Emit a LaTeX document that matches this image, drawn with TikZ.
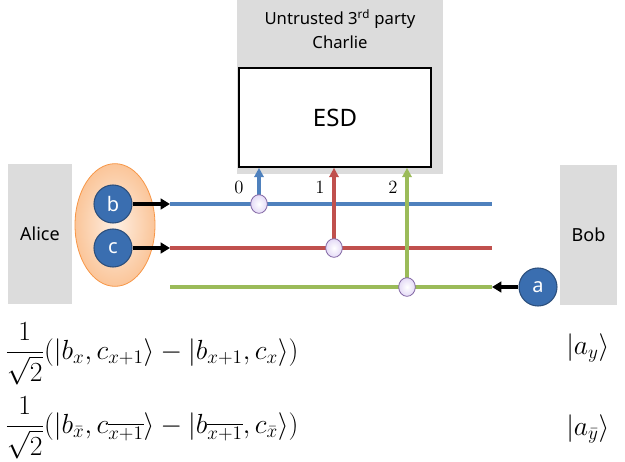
\documentclass[tikz,border=0pt]{standalone}
\usepackage{amsmath, amssymb}
\usepackage{fontspec}
\newfontfamily\labelfont{Noto Sans}
\usetikzlibrary{arrows.meta, shapes.geometric}

\definecolor{partygrey}{HTML}{DCDCDC}
\definecolor{lineblue}{HTML}{4F81BD}
\definecolor{linered}{HTML}{C0504D}
\definecolor{linegreen}{HTML}{9BBB59}
\definecolor{qubitblue}{HTML}{3A6EB0}
\definecolor{qubitedge}{HTML}{2C4F7C}
\definecolor{pairorange}{HTML}{F79646}
\definecolor{measfill}{HTML}{E4DAF6}
\definecolor{measedge}{HTML}{8064A2}

\tikzset{
    party/.style={fill=partygrey, inner sep=0pt, font=\labelfont\fontsize{13.5}{15}\selectfont},
    qubit/.style={circle, fill=qubitblue, draw=qubitedge, line width=0.8pt, minimum size=28.5pt,
        inner sep=0pt, text=white, font=\labelfont\fontsize{15}{15}\selectfont},
    meas/.style={ellipse, draw=measedge, line width=0.6pt, minimum width=12.5pt, minimum height=14pt,
        inner sep=0pt, shading=radial, inner color=white, outer color=measfill},
    feed/.style={line width=2.4pt, -{Triangle[length=7pt, width=8pt]}},
    rail/.style={line width=2.4pt},
    port/.style={font=\fontsize{14}{14}\selectfont, inner sep=0pt},
    state/.style={anchor=base west, inner sep=0pt, font=\fontsize{21}{25}\selectfont},
    ket/.style={anchor=base west, inner sep=0pt, font=\fontsize{20}{24}\selectfont},
}

\begin{document}
\begin{tikzpicture}[x=0.75pt, y=-0.75pt]
    \useasboundingbox (0,0) rectangle (625,461);

    % parties
    \node[party, minimum width=154.5pt, minimum height=130pt, anchor=north] (charlie) at (340,0) {};
    \node[align=center, font=\labelfont\fontsize{12.5}{18}\selectfont] (charlietxt) at (340,29)
        {Untrusted 3\textsuperscript{rd} party\\Charlie};
    \node[draw, line width=1.5pt, fill=white, minimum width=144pt, minimum height=74pt,
        font=\labelfont\fontsize{18}{18}\selectfont] (esd) at (335,117.5) {ESD};
    \node[party, minimum width=48pt, minimum height=105pt] (alice) at (40,234) {Alice};
    \node[party, minimum width=42.75pt, minimum height=105pt] (bob) at (588.5,234.5) {Bob};

    % entangled pair held by Alice
    \node[ellipse, draw=pairorange, line width=0.6pt, minimum width=60pt, minimum height=92pt,
        shading=radial, inner color=pairorange!15, outer color=pairorange!55] (pair) at (115,225) {};
    \node[qubit] (b) at (113,204) {b};
    \node[qubit] (c) at (113,248) {c};
    \node[qubit] (a) at (538,287) {a};

    % rails
    \coordinate (b0) at (170,204);
    \coordinate (b1) at (492,204);
    \coordinate (c0) at (170,248);
    \coordinate (c1) at (492,248);
    \coordinate (a0) at (170,287);
    \coordinate (a1) at (492,287);
    \draw[rail, lineblue] (b0) -- (b1);
    \draw[rail, linered] (c0) -- (c1);
    \draw[rail, linegreen] (a0) -- (a1);
    \draw[feed] (b) -- (b0);
    \draw[feed] (c) -- (c0);
    \draw[feed] (a) -- (a1);

    % measurements into ESD
    \coordinate (m0) at (259,204);
    \coordinate (m1) at (334,248);
    \coordinate (m2) at (407,287);
    \draw[rail, lineblue, -{Triangle[length=7pt, width=7pt]}] (m0) -- (m0 |- esd.south);
    \draw[rail, linered, -{Triangle[length=7pt, width=7pt]}] (m1) -- (m1 |- esd.south);
    \draw[rail, linegreen, -{Triangle[length=7pt, width=7pt]}] (m2) -- (m2 |- esd.south);
    \node[meas] (meas0) at (m0) {};
    \node[meas] (meas1) at (m1) {};
    \node[meas] (meas2) at (m2) {};
    \node[port] (p0) at (239,187) {0};
    \node[port] (p1) at (320,187) {1};
    \node[port] (p2) at (393,187) {2};

    % states
    \node[state] (s1) at (5,359)
        {$\displaystyle\frac{1}{\sqrt{2}}(|b_x,c_{x+1}\rangle-|b_{x+1},c_x\rangle)$};
    \node[state] (s2) at (5,433)
        {$\displaystyle\frac{1}{\sqrt{2}}(|b_{\bar x},c_{\overline{x+1}}\rangle-|b_{\overline{x+1}},c_{\bar x}\rangle)$};
    \node[ket] (r1) at (566,354) {$|a_y\rangle$};
    \node[ket] (r2) at (566,435) {$|a_{\bar y}\rangle$};
\end{tikzpicture}
\end{document}
